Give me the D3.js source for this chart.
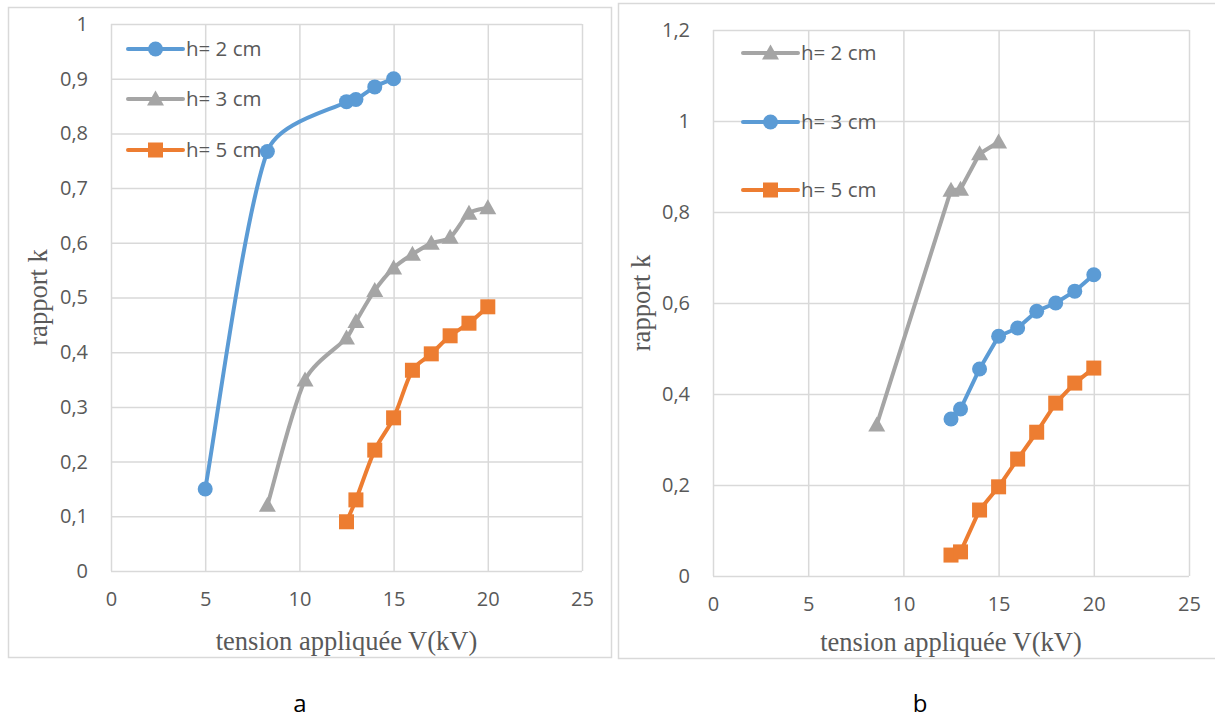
<!DOCTYPE html>
<html><head><meta charset="utf-8">
<script src="https://cdn.jsdelivr.net/npm/d3@7"></script>
<style>
html,body{margin:0;padding:0;background:#fff;}
svg{display:block;}
</style></head>
<body>
<svg id="chart" width="1215" height="718"></svg>
<script>
// ---- data ----
const xTicks = [0, 5, 10, 15, 20, 25];
const xTickLabels = ["0", "5", "10", "15", "20", "25"];

const yTicksA = [0, 0.1, 0.2, 0.3, 0.4, 0.5, 0.6, 0.7, 0.8, 0.9, 1];
const yTickLabelsA = ["0", "0,1", "0,2", "0,3", "0,4", "0,5", "0,6", "0,7", "0,8", "0,9", "1"];
const yTicksB = [0, 0.2, 0.4, 0.6, 0.8, 1, 1.2];
const yTickLabelsB = ["0", "0,2", "0,4", "0,6", "0,8", "1", "1,2"];

// chart a
const a_h2_x = [5, 8.3, 12.5, 13, 14, 15];
const a_h2_y = [0.15, 0.767, 0.858, 0.862, 0.885, 0.9];
const a_h3_x = [8.3, 10.3, 12.5, 13, 14, 15, 16, 17, 18, 19, 20];
const a_h3_y = [0.12, 0.349, 0.426, 0.456, 0.513, 0.554, 0.579, 0.599, 0.61, 0.654, 0.664];
const a_h5_x = [12.5, 13, 14, 15, 16, 17, 18, 19, 20];
const a_h5_y = [0.09, 0.13, 0.221, 0.28, 0.367, 0.397, 0.43, 0.453, 0.483];

// chart b
const b_h2_x = [8.6, 12.5, 13, 14, 15];
const b_h2_y = [0.332, 0.848, 0.85, 0.928, 0.954];
const b_h3_x = [12.5, 13, 14, 15, 16, 17, 18, 19, 20];
const b_h3_y = [0.345, 0.367, 0.455, 0.527, 0.545, 0.582, 0.6, 0.626, 0.662];
const b_h5_x = [12.5, 13, 14, 15, 16, 17, 18, 19, 20];
const b_h5_y = [0.046, 0.053, 0.145, 0.196, 0.257, 0.316, 0.38, 0.424, 0.457];

const seriesNames = ["h= 2 cm", "h= 3 cm", "h= 5 cm"];
const xTitle = "tension appliquée V(kV)";
const yTitle = "rapport k";
const panelLabels = ["a", "b"];

// ---- styles ----
const BLUE = "#5B9BD5", GRAY = "#A5A5A5", ORANGE = "#ED7D31";
const GRID = "#D9D9D9", TXT = "#595959";
const SANS = "'Open Sans','Noto Sans',sans-serif";
const SERIF = "'Liberation Serif','DejaVu Serif',serif";

const svg = d3.select("#chart");

function zip(xs, ys) { return xs.map((x, i) => ({x, y: ys[i]})); }

// Excel-like smoothed line: Catmull-Rom tangents, control arms clamped to a third of the segment
function smoothPath(P) {
  const p = d3.path();
  const n = P.length;
  const T = P.map((pt, i) => {
    const a = P[Math.max(0, i - 1)], b = P[Math.min(n - 1, i + 1)];
    return [(b[0] - a[0]) / 6, (b[1] - a[1]) / 6];
  });
  function clamp(v, max) {
    const l = Math.hypot(v[0], v[1]);
    if (l <= max || l === 0) return v;
    return [v[0] * max / l, v[1] * max / l];
  }
  p.moveTo(P[0][0], P[0][1]);
  for (let i = 0; i < n - 1; i++) {
    const d = Math.hypot(P[i + 1][0] - P[i][0], P[i + 1][1] - P[i][1]) / 3;
    const t0 = clamp(T[i], d), t1 = clamp(T[i + 1], d);
    p.bezierCurveTo(P[i][0] + t0[0], P[i][1] + t0[1],
                    P[i + 1][0] - t1[0], P[i + 1][1] - t1[1],
                    P[i + 1][0], P[i + 1][1]);
  }
  return p.toString();
}

function drawMarker(g, shape, cx, cy, color) {
  if (shape === "circle") {
    g.append("circle").attr("cx", cx).attr("cy", cy).attr("r", 7.5).attr("fill", color);
  } else if (shape === "square") {
    g.append("rect").attr("x", cx - 7.5).attr("y", cy - 7.5).attr("width", 15).attr("height", 15).attr("fill", color);
  } else {
    const s = 17, h = 15;
    g.append("path").attr("d", `M${cx},${cy - h / 2 - 1}L${cx + s / 2},${cy + h / 2 - 1}L${cx - s / 2},${cy + h / 2 - 1}Z`).attr("fill", color);
  }
}

function drawChart(cfg) {
  const g = svg.append("g");
  // frame
  g.append("rect").attr("x", cfg.frame[0] + 0.5).attr("y", cfg.frame[1] + 0.5)
    .attr("width", cfg.frame[2] - cfg.frame[0]).attr("height", cfg.frame[3] - cfg.frame[1])
    .attr("fill", "#fff").attr("stroke", GRID).attr("stroke-width", 1.5);

  const x = d3.scaleLinear().domain([0, 25]).range([cfg.plot[0], cfg.plot[2]]);
  const y = d3.scaleLinear().domain([0, cfg.yMax]).range([cfg.plot[3], cfg.plot[1]]);

  // grid
  const gx = g.append("g").attr("transform", `translate(0,${cfg.plot[3]})`)
    .call(d3.axisBottom(x).tickValues(xTicks).tickSize(-(cfg.plot[3] - cfg.plot[1])).tickFormat(""));
  const gy = g.append("g").attr("transform", `translate(${cfg.plot[0]},0)`)
    .call(d3.axisLeft(y).tickValues(cfg.yTicks).tickSize(-(cfg.plot[2] - cfg.plot[0])).tickFormat(""));
  [gx, gy].forEach(a => {
    a.select(".domain").remove();
    a.selectAll(".tick line").attr("stroke", GRID).attr("stroke-width", 1.5);
  });

  // tick labels
  const lx = g.append("g").attr("transform", `translate(0,${cfg.plot[3]})`)
    .call(d3.axisBottom(x).tickValues(xTicks).tickSize(0).tickPadding(21)
      .tickFormat((d, i) => xTickLabels[i]));
  const ly = g.append("g").attr("transform", `translate(${cfg.plot[0]},0)`)
    .call(d3.axisLeft(y).tickValues(cfg.yTicks).tickSize(0).tickPadding(23)
      .tickFormat((d, i) => cfg.yLabels[i]));
  [lx, ly].forEach(a => {
    a.select(".domain").remove();
    a.selectAll("text").attr("fill", TXT).style("font-family", SANS).style("font-size", "20px");
  });

  // titles
  g.append("text").attr("x", (cfg.plot[0] + cfg.plot[2]) / 2).attr("y", cfg.xTitleY)
    .attr("text-anchor", "middle").attr("fill", TXT)
    .style("font-family", SERIF).style("font-size", "26.5px").text(xTitle);
  g.append("text").attr("transform", `translate(${cfg.yTitleX},${(cfg.plot[1] + cfg.plot[3]) / 2}) rotate(-90)`)
    .attr("text-anchor", "middle").attr("fill", TXT)
    .style("font-family", SERIF).style("font-size", "26.5px").text(yTitle);

  // series
  cfg.series.forEach(s => {
    const pts = zip(s.xs, s.ys);
    const px = pts.map(d => [x(d.x), y(d.y)]);
    const dPath = s.smooth ? smoothPath(px) : d3.line()(px);
    g.append("path").attr("d", dPath).attr("fill", "none").attr("stroke", s.color)
      .attr("stroke-width", 4).attr("stroke-linejoin", "round").attr("stroke-linecap", "round");
    const mg = g.append("g");
    pts.forEach(p => drawMarker(mg, s.shape, x(p.x), y(p.y), s.color));
  });

  // legend
  cfg.series.forEach((s, i) => {
    const ly2 = cfg.legendY[i];
    const x0 = cfg.legendX;
    g.append("line").attr("x1", x0).attr("x2", x0 + 55).attr("y1", ly2).attr("y2", ly2)
      .attr("stroke", s.color).attr("stroke-width", 4).attr("stroke-linecap", "round");
    drawMarker(g, s.shape, x0 + 27.5, ly2, s.color);
    g.append("text").attr("x", x0 + 58).attr("y", ly2).attr("dy", "0.35em").attr("fill", TXT)
      .style("font-family", SANS).style("font-size", "20.5px").text(s.name);
  });

  // panel label
  g.append("text").attr("x", cfg.panelX).attr("y", 704).attr("dy", "0.35em").attr("text-anchor", "middle")
    .attr("fill", "#000").style("font-family", SANS).style("font-size", "24px").text(cfg.panel);
}

drawChart({
  frame: [8, 7, 611, 657],
  plot: [111, 24, 582, 571],
  yMax: 1, yTicks: yTicksA, yLabels: yTickLabelsA,
  xTitleY: 650, yTitleX: 47,
  legendX: 128, legendY: [49, 99, 150],
  panel: panelLabels[0], panelX: 300,
  series: [
    {name: seriesNames[0], xs: a_h2_x, ys: a_h2_y, color: BLUE, shape: "circle", smooth: true},
    {name: seriesNames[1], xs: a_h3_x, ys: a_h3_y, color: GRAY, shape: "triangle", smooth: true},
    {name: seriesNames[2], xs: a_h5_x, ys: a_h5_y, color: ORANGE, shape: "square", smooth: true}
  ]
});

drawChart({
  frame: [618, 3, 1222, 658],
  plot: [713, 30, 1189, 576],
  yMax: 1.2, yTicks: yTicksB, yLabels: yTickLabelsB,
  xTitleY: 651, yTitleX: 650,
  legendX: 743, legendY: [53, 122, 190],
  panel: panelLabels[1], panelX: 920,
  series: [
    {name: seriesNames[0], xs: b_h2_x, ys: b_h2_y, color: GRAY, shape: "triangle", smooth: false},
    {name: seriesNames[1], xs: b_h3_x, ys: b_h3_y, color: BLUE, shape: "circle", smooth: false},
    {name: seriesNames[2], xs: b_h5_x, ys: b_h5_y, color: ORANGE, shape: "square", smooth: false}
  ]
});
</script>
</body></html>
